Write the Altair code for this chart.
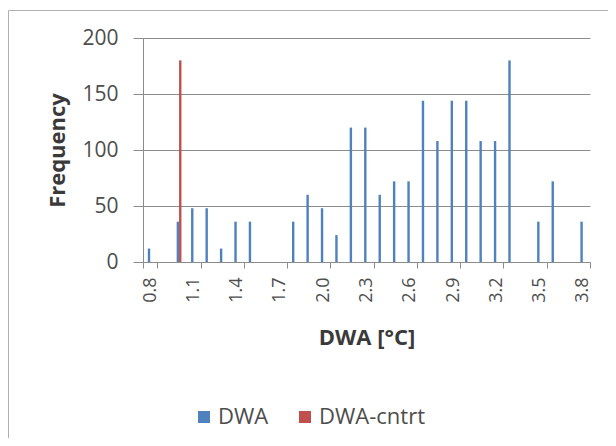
import altair as alt
import pandas as pd

categories = ["0.8", "0.9", "1.0", "1.1", "1.2", "1.3", "1.4", "1.5", "1.6", "1.7",
              "1.8", "1.9", "2.0", "2.1", "2.2", "2.3", "2.4", "2.5", "2.6", "2.7",
              "2.8", "2.9", "3.0", "3.1", "3.2", "3.3", "3.4", "3.5", "3.6", "3.7", "3.8"]
dwa = [12, 0, 36, 48, 48, 12, 36, 36, 0, 0,
       36, 60, 48, 24, 120, 120, 60, 72, 72, 144,
       108, 144, 144, 108, 108, 180, 0, 36, 72, 0, 36]
dwa_cntrt = [0, 0, 180, 0, 0, 0, 0, 0, 0, 0,
             0, 0, 0, 0, 0, 0, 0, 0, 0, 0,
             0, 0, 0, 0, 0, 0, 0, 0, 0, 0, 0]
tick_labels = ["0.8", "1.1", "1.4", "1.7", "2.0", "2.3", "2.6", "2.9", "3.2", "3.5", "3.8"]
y_ticks = [0, 50, 100, 150, 200]
series = ["DWA", "DWA-cntrt"]
colors = ["#4F81BD", "#C0504D"]

rows = []
for c, v in zip(categories, dwa):
    if v:
        rows.append({"cat": c, "Frequency": v, "Series": "DWA"})
for c, v in zip(categories, dwa_cntrt):
    if v:
        rows.append({"cat": c, "Frequency": v, "Series": "DWA-cntrt"})
df = pd.DataFrame(rows)

FONT = "Open Sans"
GRID = "#8c8c8c"
LABEL = "#4d4d4d"
TITLE = "#3a3a3a"

bars = alt.Chart(df).mark_bar().encode(
    x=alt.X(
        "cat:N", sort=categories,
        scale=alt.Scale(domain=categories, paddingInner=0, paddingOuter=0),
        axis=alt.Axis(
            title="DWA [°C]", values=tick_labels, labelAngle=270, labelOverlap=False,
            tickBand="extent", tickSize=6, tickColor=GRID, domainColor=GRID,
            labelPadding=9, labelFont=FONT, labelFontSize=18, labelColor=LABEL,
            titleFont=FONT, titleFontSize=22, titleFontWeight="bold", titleColor=TITLE,
            titleY=82, titleBaseline="alphabetic", grid=False,
        ),
    ),
    xOffset=alt.XOffset(
        "Series:N",
        scale=alt.Scale(domain=["_l"] + series + ["_r"], paddingOuter=1, paddingInner=0),
    ),
    y=alt.Y(
        "Frequency:Q", scale=alt.Scale(domain=[0, 200], nice=False),
        axis=alt.Axis(
            values=y_ticks, title="Frequency", grid=True, gridColor=GRID,
            tickSize=10, tickColor=GRID, domainColor=GRID,
            labelPadding=15, labelFont=FONT, labelFontSize=21, labelColor=LABEL,
            titleFont=FONT, titleFontSize=22, titleFontWeight="bold", titleColor=TITLE,
            titleX=-79, titleY=112, titleAngle=270, titleAlign="center",
            titleBaseline="alphabetic",
        ),
    ),
    color=alt.Color(
        "Series:N", scale=alt.Scale(domain=series, range=colors),
        legend=alt.Legend(
            title=None, orient="none", legendX=50, legendY=368, direction="horizontal",
            columns=2, columnPadding=25, labelOffset=3, padding=0,
            symbolType="square", symbolSize=144, symbolStrokeWidth=0,
            labelFont=FONT, labelFontSize=22, labelColor=LABEL,
        ),
    ),
)

frame = alt.Chart(pd.DataFrame({"a": [0]})).mark_rect(
    fill="transparent", stroke="#b0b0b0", strokeWidth=1
).encode(
    x=alt.value(-134.5), x2=alt.value(700), y=alt.value(-27.5), y2=alt.value(600)
)

chart = alt.layer(frame, bars).properties(
    width=447, height=224,
    autosize=alt.AutoSizeParams(type="none"),
    padding={"left": 135, "top": 30, "right": 18, "bottom": 176},
    background="white",
).configure_view(stroke="transparent")

chart.save("out.html", embed_options={"renderer": "svg", "actions": False})
